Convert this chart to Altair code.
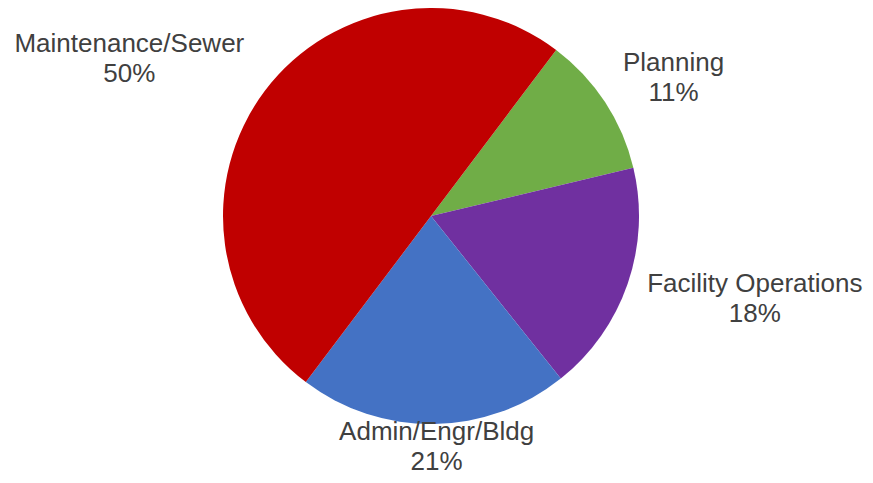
import math
import altair as alt
import pandas as pd

# Data
categories = ["Planning", "Facility Operations", "Admin/Engr/Bldg", "Maintenance/Sewer"]
percents = [11, 18, 21, 50]
colors = ["#70AD47", "#7030A0", "#4472C4", "#C00000"]

df = pd.DataFrame({
    "category": categories,
    "percent": percents,
    "order": list(range(len(categories))),
})
df["label"] = [f"{c}\n{p}%" for c, p in zip(categories, percents)]

# Layout / style
W, H = 857, 467
CX, CY, R = 423, 208, 208
START = math.radians(37)
theta_range = [START, START + 2 * math.pi]
LABEL_R = 260
label_offsets = {
    "Planning": (25, -3),
    "Facility Operations": (78, -9),
    "Admin/Engr/Bldg": (2, -36),
    "Maintenance/Sewer": (-94, -8),
}

pie = alt.Chart(df).mark_arc(outerRadius=R).encode(
    theta=alt.Theta("percent:Q", stack=True, scale=alt.Scale(range=theta_range)),
    order=alt.Order("order:Q"),
    color=alt.Color("category:N", scale=alt.Scale(domain=categories, range=colors), legend=None),
    x=alt.value(CX),
    y=alt.value(CY),
)

layers = [pie]
for cat in categories:
    dx, dy = label_offsets[cat]
    t = (
        alt.Chart(df)
        .transform_window(cum="sum(percent)", sort=[alt.SortField("order")])
        .transform_calculate(mid="datum.cum - datum.percent / 2")
        .transform_filter(alt.datum.category == cat)
        .mark_text(
            radius=LABEL_R, dx=dx, dy=dy, font="Liberation Sans", fontSize=26,
            color="#404040", lineBreak="\n", lineHeight=30, align="center",
            baseline="alphabetic",
        )
        .encode(
            theta=alt.Theta("mid:Q", scale=alt.Scale(domain=[0, 100], range=theta_range)),
            text="label:N",
            x=alt.value(CX),
            y=alt.value(CY),
        )
    )
    layers.append(t)

chart = (
    alt.layer(*layers)
    .resolve_scale(theta="independent")
    .properties(width=W, height=H, autosize=alt.AutoSizeParams(type="none"), padding=0)
    .configure_view(stroke=None)
)

chart.save("out.html", embed_options={"renderer": "svg", "actions": False})
